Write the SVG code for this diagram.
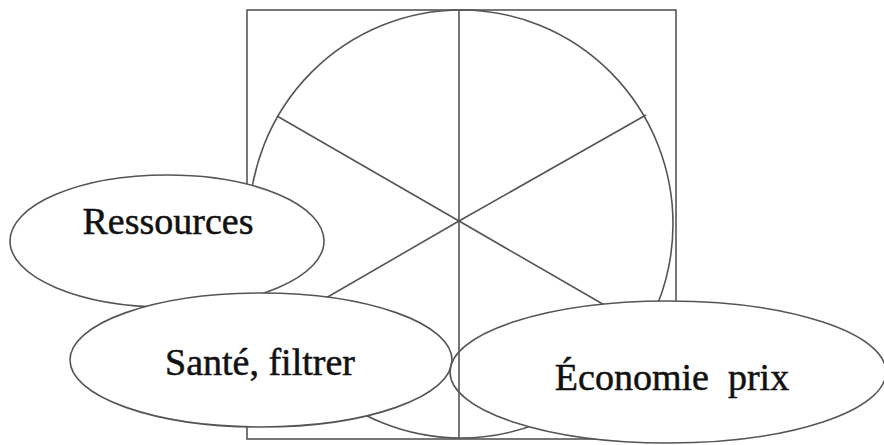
<svg xmlns="http://www.w3.org/2000/svg" width="884" height="445" viewBox="0 0 884 445">
<style>
.ln{fill:none;stroke:#555;stroke-width:1.6}
.nd{fill:#fff;stroke:#555;stroke-width:1.6}
.tx{font-family:"Liberation Serif","Times New Roman",serif;font-size:38px;fill:#111;stroke:#111;stroke-width:0.5;text-anchor:middle}
</style>
<rect width="884" height="445" fill="#fff"/>
<g id="frame">
<rect class="ln" x="247" y="10" width="429" height="429"/>
<ellipse class="ln" cx="461" cy="224" rx="212" ry="214"/>
<line class="ln" x1="459" y1="221" x2="277" y2="116"/>
<line class="ln" x1="459" y1="221" x2="646" y2="115"/>
<line class="ln" x1="459" y1="221" x2="300" y2="313"/>
<line class="ln" x1="459" y1="221" x2="620" y2="314"/>
</g>
<g id="ressources">
<ellipse class="nd" cx="167" cy="241" rx="157" ry="66"/>
<text class="tx" x="168" y="234">Ressources</text>
</g>
<g id="sante">
<ellipse class="nd" cx="261" cy="360" rx="191" ry="67"/>
<text class="tx" x="260" y="375">Santé, filtrer</text>
</g>
<g id="economie">
<ellipse class="nd" cx="668" cy="372" rx="218" ry="71"/>
<text class="tx" x="672" y="390" xml:space="preserve">Économie  prix</text>
</g>
<g id="connectors">
<line class="ln" x1="459" y1="10" x2="459" y2="439"/>
</g>
</svg>
